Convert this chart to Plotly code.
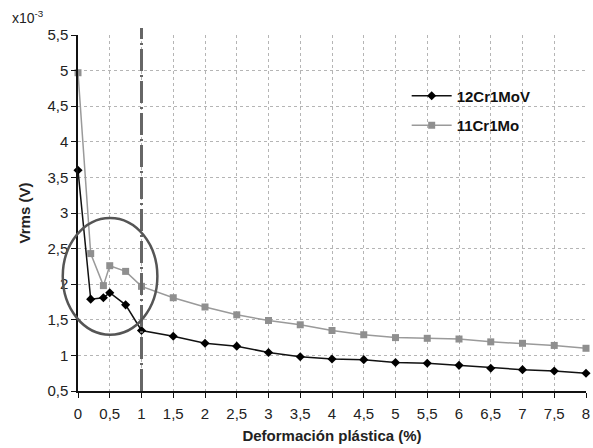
import plotly.graph_objects as go

x_vals = [0, 0.2, 0.4, 0.5, 0.75, 1, 1.5, 2, 2.5, 3, 3.5, 4, 4.5, 5, 5.5, 6, 6.5, 7, 7.5, 8]
s_12cr1mov = [3.60, 1.79, 1.81, 1.88, 1.71, 1.35, 1.27, 1.17, 1.13, 1.04, 0.98, 0.95, 0.94, 0.90,
              0.89, 0.86, 0.82, 0.80, 0.78, 0.75]
s_11cr1mo = [4.97, 2.43, 1.98, 2.26, 2.18, 1.97, 1.81, 1.68, 1.57, 1.49, 1.43, 1.35, 1.29, 1.25,
             1.24, 1.23, 1.19, 1.17, 1.14, 1.10]
x_ticks = [i * 0.5 for i in range(17)]
y_ticks = [0.5 + i * 0.5 for i in range(11)]
x_range = [0, 8]
y_range = [0.5, 5.5]
limit_x = 1

FONT = "Liberation Sans, Arial, sans-serif"

fig = go.Figure()
fig.add_trace(go.Scatter(
    x=x_vals, y=s_12cr1mov, mode="lines+markers", name="12Cr1MoV", legendgroup="a",
    line=dict(color="#111111", width=1.5),
    marker=dict(symbol="diamond", size=7, color="#000000"),
    cliponaxis=False,
))
fig.add_trace(go.Scatter(
    x=x_vals, y=s_11cr1mo, mode="lines+markers", name="11Cr1Mo", legendgroup="b",
    line=dict(color="#9a9a9a", width=1.5),
    marker=dict(symbol="square", size=7, color="#8f8f8f"),
    cliponaxis=False,
))

def xd(v):
    return (v - x_range[0]) / (x_range[1] - x_range[0])

def yd(v):
    return (v - y_range[0]) / (y_range[1] - y_range[0])

# vertical dash-dot line at deformation = 1 %
fig.add_shape(type="line", xref="x domain", yref="y domain",
              x0=xd(limit_x), x1=xd(limit_x), y0=0, y1=1.02,
              line=dict(color="#666666", width=3, dash="22px,4px,2px,4px"))

# ellipse highlighting the transition region
fig.add_shape(type="circle", xref="x domain", yref="y domain",
              x0=xd(-0.24), x1=xd(1.25), y0=yd(1.29), y1=yd(2.93),
              line=dict(color="#555555", width=2.5))

fig.add_annotation(text="x10<sup>-3</sup>", xref="paper", yref="paper",
                   x=-0.134, y=1.02, xanchor="left", yanchor="bottom",
                   showarrow=False, font=dict(family=FONT, size=14, color="#222"))

fig.update_layout(
    width=593, height=448,
    margin=dict(l=78, r=7, t=35, b=57),
    plot_bgcolor="white", paper_bgcolor="white",
    separators=",.",
    font=dict(family=FONT, size=15, color="#222222"),
    legend=dict(x=0.647, y=0.875, xanchor="left", yanchor="top",
                bgcolor="rgba(255,255,255,0)", borderwidth=0,
                font=dict(family=FONT, size=15, color="#111111", weight="bold"),
                itemwidth=40, tracegroupgap=7, traceorder="grouped"),
    showlegend=True,
)
fig.update_xaxes(
    range=x_range, tickvals=x_ticks, tickformat=".1~f", automargin=False,
    showline=True, linecolor="#111111", linewidth=1.5,
    ticks="outside", ticklen=5, tickcolor="#111111", ticklabelstandoff=3,
    showgrid=True, gridcolor="#b5b5b5", gridwidth=1, griddash="3px,3px",
    zeroline=False,
    title=dict(text="<b>Deformación plástica (%)</b>", font=dict(size=15), standoff=10),
)
fig.update_yaxes(
    range=y_range, tickvals=y_ticks, tickformat=".1~f", automargin=False,
    showline=True, linecolor="#111111", linewidth=1.5,
    ticks="outside", ticklen=5, tickcolor="#111111",
    showgrid=True, gridcolor="#b5b5b5", gridwidth=1, griddash="3px,3px",
    zeroline=False,
    title=dict(text="<b>Vrms (V)</b>", font=dict(size=15), standoff=13),
)

fig.write_html("out.html")
